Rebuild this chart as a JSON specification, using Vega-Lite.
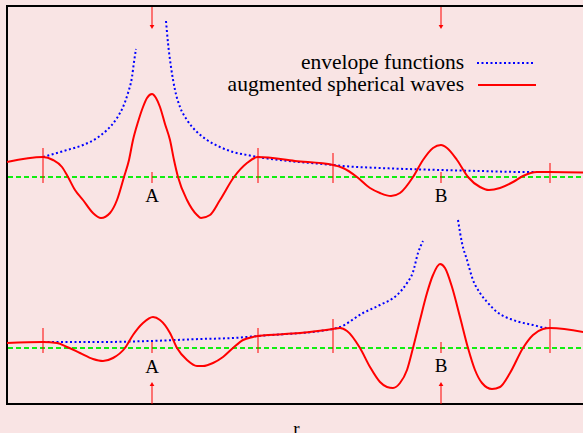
{
  "$schema": "https://vega.github.io/schema/vega-lite/v6.json",
  "width": 590,
  "height": 398,
  "autosize": "none",
  "padding": {"left": 7, "top": 6, "right": 0, "bottom": 29},
  "background": "#f9e4e4",
  "config": {
    "view": {"stroke": "#000000", "strokeWidth": 2, "fill": "#f9e4e4"},
    "font": "Liberation Serif"
  },
  "datasets": {
    "curves": [
      {"x": 7, "y": 162, "s": "top", "k": "wave"},
      {"x": 43, "y": 157, "s": "top", "k": "wave"},
      {"x": 53, "y": 160, "s": "top", "k": "wave"},
      {"x": 62, "y": 167, "s": "top", "k": "wave"},
      {"x": 68, "y": 177, "s": "top", "k": "wave"},
      {"x": 75, "y": 190, "s": "top", "k": "wave"},
      {"x": 83, "y": 200, "s": "top", "k": "wave"},
      {"x": 93, "y": 213, "s": "top", "k": "wave"},
      {"x": 101, "y": 218, "s": "top", "k": "wave"},
      {"x": 110, "y": 213, "s": "top", "k": "wave"},
      {"x": 117, "y": 200, "s": "top", "k": "wave"},
      {"x": 124, "y": 177, "s": "top", "k": "wave"},
      {"x": 129, "y": 160, "s": "top", "k": "wave"},
      {"x": 133, "y": 140, "s": "top", "k": "wave"},
      {"x": 138, "y": 122, "s": "top", "k": "wave"},
      {"x": 143, "y": 107, "s": "top", "k": "wave"},
      {"x": 147, "y": 98, "s": "top", "k": "wave"},
      {"x": 152, "y": 94, "s": "top", "k": "wave"},
      {"x": 156, "y": 98, "s": "top", "k": "wave"},
      {"x": 160, "y": 107, "s": "top", "k": "wave"},
      {"x": 165, "y": 124, "s": "top", "k": "wave"},
      {"x": 170, "y": 140, "s": "top", "k": "wave"},
      {"x": 174, "y": 160, "s": "top", "k": "wave"},
      {"x": 178, "y": 177, "s": "top", "k": "wave"},
      {"x": 187, "y": 200, "s": "top", "k": "wave"},
      {"x": 197, "y": 215, "s": "top", "k": "wave"},
      {"x": 201, "y": 218, "s": "top", "k": "wave"},
      {"x": 210, "y": 215, "s": "top", "k": "wave"},
      {"x": 220, "y": 200, "s": "top", "k": "wave"},
      {"x": 234, "y": 177, "s": "top", "k": "wave"},
      {"x": 247, "y": 163, "s": "top", "k": "wave"},
      {"x": 258, "y": 157, "s": "top", "k": "wave"},
      {"x": 295, "y": 161, "s": "top", "k": "wave"},
      {"x": 333, "y": 165, "s": "top", "k": "wave"},
      {"x": 343, "y": 168, "s": "top", "k": "wave"},
      {"x": 357, "y": 177, "s": "top", "k": "wave"},
      {"x": 370, "y": 188, "s": "top", "k": "wave"},
      {"x": 380, "y": 193, "s": "top", "k": "wave"},
      {"x": 391, "y": 196, "s": "top", "k": "wave"},
      {"x": 400, "y": 193, "s": "top", "k": "wave"},
      {"x": 413, "y": 177, "s": "top", "k": "wave"},
      {"x": 423, "y": 160, "s": "top", "k": "wave"},
      {"x": 433, "y": 148, "s": "top", "k": "wave"},
      {"x": 441, "y": 145, "s": "top", "k": "wave"},
      {"x": 447, "y": 148, "s": "top", "k": "wave"},
      {"x": 457, "y": 160, "s": "top", "k": "wave"},
      {"x": 468, "y": 177, "s": "top", "k": "wave"},
      {"x": 480, "y": 187, "s": "top", "k": "wave"},
      {"x": 489, "y": 190, "s": "top", "k": "wave"},
      {"x": 500, "y": 188, "s": "top", "k": "wave"},
      {"x": 513, "y": 182, "s": "top", "k": "wave"},
      {"x": 523, "y": 176, "s": "top", "k": "wave"},
      {"x": 537, "y": 172, "s": "top", "k": "wave"},
      {"x": 550, "y": 172, "s": "top", "k": "wave"},
      {"x": 597, "y": 173, "s": "top", "k": "wave"},

      {"x": 7, "y": 343, "s": "bot", "k": "wave"},
      {"x": 43, "y": 342, "s": "bot", "k": "wave"},
      {"x": 57, "y": 343, "s": "bot", "k": "wave"},
      {"x": 67, "y": 347, "s": "bot", "k": "wave"},
      {"x": 80, "y": 353, "s": "bot", "k": "wave"},
      {"x": 93, "y": 359, "s": "bot", "k": "wave"},
      {"x": 103, "y": 361, "s": "bot", "k": "wave"},
      {"x": 113, "y": 358, "s": "bot", "k": "wave"},
      {"x": 125, "y": 348, "s": "bot", "k": "wave"},
      {"x": 133, "y": 335, "s": "bot", "k": "wave"},
      {"x": 143, "y": 323, "s": "bot", "k": "wave"},
      {"x": 153, "y": 317, "s": "bot", "k": "wave"},
      {"x": 160, "y": 320, "s": "bot", "k": "wave"},
      {"x": 170, "y": 333, "s": "bot", "k": "wave"},
      {"x": 177, "y": 348, "s": "bot", "k": "wave"},
      {"x": 187, "y": 360, "s": "bot", "k": "wave"},
      {"x": 197, "y": 366, "s": "bot", "k": "wave"},
      {"x": 203, "y": 366, "s": "bot", "k": "wave"},
      {"x": 213, "y": 363, "s": "bot", "k": "wave"},
      {"x": 223, "y": 357, "s": "bot", "k": "wave"},
      {"x": 233, "y": 348, "s": "bot", "k": "wave"},
      {"x": 243, "y": 340, "s": "bot", "k": "wave"},
      {"x": 253, "y": 337, "s": "bot", "k": "wave"},
      {"x": 258, "y": 336, "s": "bot", "k": "wave"},
      {"x": 300, "y": 333, "s": "bot", "k": "wave"},
      {"x": 333, "y": 329, "s": "bot", "k": "wave"},
      {"x": 340, "y": 328, "s": "bot", "k": "wave"},
      {"x": 347, "y": 331, "s": "bot", "k": "wave"},
      {"x": 360, "y": 348, "s": "bot", "k": "wave"},
      {"x": 370, "y": 367, "s": "bot", "k": "wave"},
      {"x": 380, "y": 382, "s": "bot", "k": "wave"},
      {"x": 387, "y": 387, "s": "bot", "k": "wave"},
      {"x": 393, "y": 388, "s": "bot", "k": "wave"},
      {"x": 400, "y": 383, "s": "bot", "k": "wave"},
      {"x": 407, "y": 370, "s": "bot", "k": "wave"},
      {"x": 413, "y": 348, "s": "bot", "k": "wave"},
      {"x": 420, "y": 320, "s": "bot", "k": "wave"},
      {"x": 427, "y": 293, "s": "bot", "k": "wave"},
      {"x": 433, "y": 275, "s": "bot", "k": "wave"},
      {"x": 440, "y": 264, "s": "bot", "k": "wave"},
      {"x": 445, "y": 268, "s": "bot", "k": "wave"},
      {"x": 452, "y": 287, "s": "bot", "k": "wave"},
      {"x": 460, "y": 317, "s": "bot", "k": "wave"},
      {"x": 468, "y": 348, "s": "bot", "k": "wave"},
      {"x": 475, "y": 370, "s": "bot", "k": "wave"},
      {"x": 482, "y": 383, "s": "bot", "k": "wave"},
      {"x": 492, "y": 389, "s": "bot", "k": "wave"},
      {"x": 500, "y": 387, "s": "bot", "k": "wave"},
      {"x": 510, "y": 373, "s": "bot", "k": "wave"},
      {"x": 523, "y": 348, "s": "bot", "k": "wave"},
      {"x": 533, "y": 335, "s": "bot", "k": "wave"},
      {"x": 543, "y": 329, "s": "bot", "k": "wave"},
      {"x": 550, "y": 328, "s": "bot", "k": "wave"},
      {"x": 597, "y": 335, "s": "bot", "k": "wave"},

      {"x": 478, "y": 85, "s": "legW", "k": "wave"},
      {"x": 536, "y": 85, "s": "legW", "k": "wave"},

      {"x": 43, "y": 157, "s": "topL", "k": "env"},
      {"x": 50, "y": 155, "s": "topL", "k": "env"},
      {"x": 67, "y": 150, "s": "topL", "k": "env"},
      {"x": 83, "y": 145, "s": "topL", "k": "env"},
      {"x": 97, "y": 138, "s": "topL", "k": "env"},
      {"x": 107, "y": 130, "s": "topL", "k": "env"},
      {"x": 117, "y": 118, "s": "topL", "k": "env"},
      {"x": 123, "y": 107, "s": "topL", "k": "env"},
      {"x": 128, "y": 93, "s": "topL", "k": "env"},
      {"x": 132, "y": 77, "s": "topL", "k": "env"},
      {"x": 134, "y": 62, "s": "topL", "k": "env"},
      {"x": 136, "y": 49, "s": "topL", "k": "env"},

      {"x": 166, "y": 21, "s": "topR", "k": "env"},
      {"x": 168, "y": 43, "s": "topR", "k": "env"},
      {"x": 171, "y": 67, "s": "topR", "k": "env"},
      {"x": 175, "y": 90, "s": "topR", "k": "env"},
      {"x": 180, "y": 107, "s": "topR", "k": "env"},
      {"x": 187, "y": 120, "s": "topR", "k": "env"},
      {"x": 197, "y": 132, "s": "topR", "k": "env"},
      {"x": 207, "y": 140, "s": "topR", "k": "env"},
      {"x": 220, "y": 147, "s": "topR", "k": "env"},
      {"x": 233, "y": 152, "s": "topR", "k": "env"},
      {"x": 247, "y": 155, "s": "topR", "k": "env"},
      {"x": 258, "y": 157, "s": "topR", "k": "env"},
      {"x": 333, "y": 165, "s": "topR", "k": "env"},
      {"x": 343, "y": 166, "s": "topR", "k": "env"},
      {"x": 380, "y": 168, "s": "topR", "k": "env"},
      {"x": 441, "y": 170, "s": "topR", "k": "env"},
      {"x": 480, "y": 171, "s": "topR", "k": "env"},
      {"x": 523, "y": 172, "s": "topR", "k": "env"},
      {"x": 550, "y": 172, "s": "topR", "k": "env"},

      {"x": 43, "y": 342, "s": "botL", "k": "env"},
      {"x": 50, "y": 342, "s": "botL", "k": "env"},
      {"x": 100, "y": 342, "s": "botL", "k": "env"},
      {"x": 150, "y": 341, "s": "botL", "k": "env"},
      {"x": 200, "y": 339, "s": "botL", "k": "env"},
      {"x": 233, "y": 338, "s": "botL", "k": "env"},
      {"x": 258, "y": 336, "s": "botL", "k": "env"},
      {"x": 333, "y": 329, "s": "botL", "k": "env"},
      {"x": 340, "y": 327, "s": "botL", "k": "env"},
      {"x": 363, "y": 313, "s": "botL", "k": "env"},
      {"x": 380, "y": 305, "s": "botL", "k": "env"},
      {"x": 397, "y": 295, "s": "botL", "k": "env"},
      {"x": 407, "y": 283, "s": "botL", "k": "env"},
      {"x": 413, "y": 272, "s": "botL", "k": "env"},
      {"x": 418, "y": 253, "s": "botL", "k": "env"},
      {"x": 423, "y": 241, "s": "botL", "k": "env"},

      {"x": 458, "y": 220, "s": "botR", "k": "env"},
      {"x": 462, "y": 243, "s": "botR", "k": "env"},
      {"x": 467, "y": 260, "s": "botR", "k": "env"},
      {"x": 473, "y": 280, "s": "botR", "k": "env"},
      {"x": 480, "y": 293, "s": "botR", "k": "env"},
      {"x": 488, "y": 303, "s": "botR", "k": "env"},
      {"x": 497, "y": 312, "s": "botR", "k": "env"},
      {"x": 513, "y": 320, "s": "botR", "k": "env"},
      {"x": 533, "y": 325, "s": "botR", "k": "env"},
      {"x": 547, "y": 328, "s": "botR", "k": "env"},
      {"x": 550, "y": 328, "s": "botR", "k": "env"},

      {"x": 477, "y": 63, "s": "legE", "k": "env"},
      {"x": 535, "y": 63, "s": "legE", "k": "env"}
    ],
    "ticks": [
      {"x": 43, "y": 148, "y2": 183},
      {"x": 258, "y": 148, "y2": 183},
      {"x": 333, "y": 153, "y2": 183},
      {"x": 550, "y": 163, "y2": 183},
      {"x": 152, "y": 172, "y2": 183},
      {"x": 441, "y": 172, "y2": 183},
      {"x": 43, "y": 328, "y2": 353},
      {"x": 258, "y": 328, "y2": 353},
      {"x": 333, "y": 319, "y2": 353},
      {"x": 550, "y": 319, "y2": 353},
      {"x": 152, "y": 342, "y2": 353},
      {"x": 441, "y": 342, "y2": 353}
    ],
    "arrows": [
      {"x": 152, "y": 7, "y2": 25, "hy": 27, "dir": "triangle-down"},
      {"x": 441, "y": 7, "y2": 25, "hy": 27, "dir": "triangle-down"},
      {"x": 152, "y": 404, "y2": 386, "hy": 384, "dir": "triangle-up"},
      {"x": 441, "y": 404, "y2": 386, "hy": 384, "dir": "triangle-up"}
    ],
    "labels": [
      {"x": 152, "y": 196, "t": "A"},
      {"x": 441, "y": 196, "t": "B"},
      {"x": 152, "y": 367, "t": "A"},
      {"x": 441, "y": 366, "t": "B"}
    ],
    "legend": [
      {"x": 464, "y": 63, "t": "envelope functions"},
      {"x": 464, "y": 85, "t": "augmented spherical waves"}
    ]
  },
  "encoding": {
    "x": {
      "field": "x",
      "type": "quantitative",
      "scale": {"domain": [7, 597], "nice": false, "zero": false},
      "axis": {
        "title": "r",
        "domain": false,
        "ticks": false,
        "labels": false,
        "grid": false,
        "titleFont": "Liberation Serif",
        "titleFontSize": 19,
        "titleFontWeight": "normal",
        "titleColor": "#000000",
        "titleX": 289,
        "titleY": 30,
        "titleBaseline": "alphabetic",
        "titleAlign": "center"
      }
    },
    "y": {
      "field": "y",
      "type": "quantitative",
      "scale": {"domain": [6, 404], "reverse": true, "nice": false, "zero": false},
      "axis": null
    }
  },
  "layer": [
    {
      "data": {"values": [{"y": 177}, {"y": 348}]},
      "mark": {"type": "rule", "color": "#11ee11", "strokeWidth": 2, "strokeDash": [5, 3]},
      "encoding": {"x": null}
    },
    {
      "data": {"name": "curves"},
      "transform": [{"filter": "datum.k == 'env'"}],
      "mark": {"type": "line", "color": "#0000ff", "strokeWidth": 2, "strokeDash": [2, 2.5], "interpolate": "monotone"},
      "encoding": {"detail": {"field": "s"}}
    },
    {
      "data": {"name": "curves"},
      "transform": [{"filter": "datum.k == 'wave'"}],
      "mark": {"type": "line", "color": "#ff0000", "strokeWidth": 2, "interpolate": "monotone"},
      "encoding": {"detail": {"field": "s"}}
    },
    {
      "data": {"name": "ticks"},
      "mark": {"type": "rule", "color": "#ff0000", "strokeWidth": 1},
      "encoding": {"y2": {"field": "y2"}}
    },
    {
      "data": {"name": "arrows"},
      "mark": {"type": "rule", "color": "#ff0000", "strokeWidth": 1},
      "encoding": {"y2": {"field": "y2"}}
    },
    {
      "data": {"name": "arrows"},
      "mark": {"type": "point", "filled": true, "color": "#ff0000", "size": 22, "opacity": 1},
      "encoding": {
        "y": {"field": "hy", "type": "quantitative"},
        "shape": {"field": "dir", "type": "nominal", "scale": null}
      }
    },
    {
      "data": {"name": "labels"},
      "mark": {"type": "text", "font": "Liberation Serif", "fontSize": 19, "color": "#000000", "baseline": "middle", "align": "center"},
      "encoding": {"text": {"field": "t"}}
    },
    {
      "data": {"name": "legend"},
      "mark": {"type": "text", "font": "Liberation Serif", "fontSize": 21.5, "color": "#000000", "baseline": "middle", "align": "right"},
      "encoding": {"text": {"field": "t"}}
    }
  ]
}
